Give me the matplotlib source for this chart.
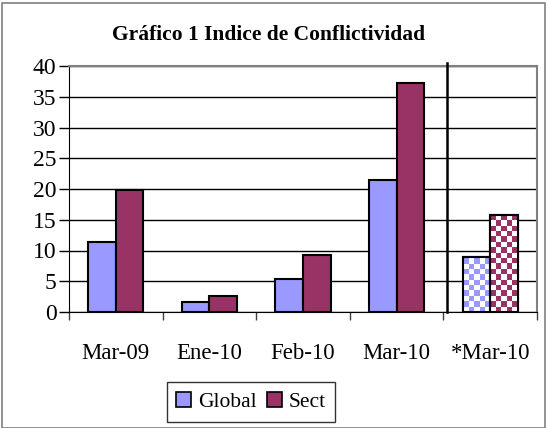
import numpy as np
import matplotlib.pyplot as plt
from matplotlib.patches import Rectangle, Patch

categories = ['Mar-09', 'Ene-10', 'Feb-10', 'Mar-10', '*Mar-10']
global_vals = [11.4, 1.6, 5.4, 21.5, 8.9]
sect_vals = [19.8, 2.6, 9.3, 37.2, 15.8]
projected = [False, False, False, False, True]  # last group drawn checkered

c_global = '#9999FF'
c_sect = '#993366'

plt.rcParams['font.family'] = ['Liberation Serif', 'DejaVu Serif']

fig = plt.figure(figsize=(5.47, 4.28), dpi=100)
ax = fig.add_axes([69 / 547, 1 - 312 / 428, 468 / 547, 246 / 428])

x = np.arange(len(categories))
w = 0.294
bars_g = ax.bar(x - w / 2, global_vals, w, color=c_global, edgecolor='black', linewidth=1.5, zorder=3)
bars_s = ax.bar(x + w / 2, sect_vals, w, color=c_sect, edgecolor='black', linewidth=1.5, zorder=3)

ax.set_xlim(-0.5, len(categories) - 0.5)
ax.set_ylim(0, 40)


def checker(bar, color):
    # white face + checkerboard image clipped to the bar
    bar.set_facecolor('white')
    x0, y0 = bar.get_x(), bar.get_y()
    bw, bh = bar.get_width(), bar.get_height()
    nx = 5
    sq = 0.87
    ny = int(np.ceil(bh / sq))
    ii, jj = np.indices((ny, nx))
    pat = (ii + jj) % 2
    rgb = np.ones((ny, nx, 3))
    col = np.array(plt.matplotlib.colors.to_rgb(color))
    rgb[pat == 1] = col
    im = ax.imshow(rgb[::-1], extent=(x0, x0 + bw, y0, y0 + ny * sq), aspect='auto',
                   interpolation='nearest', zorder=3.5, origin='upper')
    im.set_clip_path(bar)
    ax.add_patch(Rectangle((x0, y0), bw, bh, facecolor='none', edgecolor='black',
                           linewidth=1.5, zorder=4))


for i, p in enumerate(projected):
    if p:
        checker(bars_g[i], c_global)
        checker(bars_s[i], c_sect)

ax.set_xlim(-0.5, len(categories) - 0.5)
ax.set_ylim(0, 40)

ax.set_yticks(np.arange(0, 41, 5))
ax.yaxis.grid(True, color='black', linewidth=1)
ax.set_axisbelow(True)
ax.tick_params(axis='y', direction='out', length=7, width=1, labelsize=17, pad=2)

ax.set_xticks(x)
ax.set_xticklabels(categories)
ax.set_xticks(np.arange(-0.5, len(categories)), minor=True)
ax.tick_params(axis='x', which='major', length=0, labelsize=16.5, pad=22)
ax.tick_params(axis='x', which='minor', direction='out', length=6, width=1, color='#404040')

for s in ['top', 'right']:
    ax.spines[s].set_color('#808080')
    ax.spines[s].set_linewidth(1.5)
ax.spines['left'].set_color('black')
ax.spines['bottom'].set_color('black')

# separator before the projected value
ax.axvline(3.54, ymin=0, ymax=1.012, color='black', linewidth=1.8, clip_on=False, zorder=5)

fig.text(269 / 547, 1 - 35 / 428, 'Gráfico 1 Indice de Conflictividad', ha='center', va='center',
         fontsize=15.5, fontweight='bold')

handles = [Patch(facecolor=c_global, edgecolor='black', linewidth=1.2, label='Global'),
           Patch(facecolor=c_sect, edgecolor='black', linewidth=1.2, label='Sect')]
leg = fig.legend(handles=handles, loc='center', bbox_to_anchor=(251 / 547, 1 - 402 / 428), ncol=2,
                 fontsize=15.5, frameon=True, fancybox=False, edgecolor='black', handlelength=0.7,
                 handleheight=0.7, handletextpad=0.3, columnspacing=0.5, borderpad=0.45)
leg.get_frame().set_linewidth(1.0)

fig.add_artist(Rectangle((2 / 547, 0), 543 / 547, 1 - 3 / 428, transform=fig.transFigure,
                         facecolor='none', edgecolor='#808080', linewidth=1.2))

fig.savefig('out.png', dpi=100)
